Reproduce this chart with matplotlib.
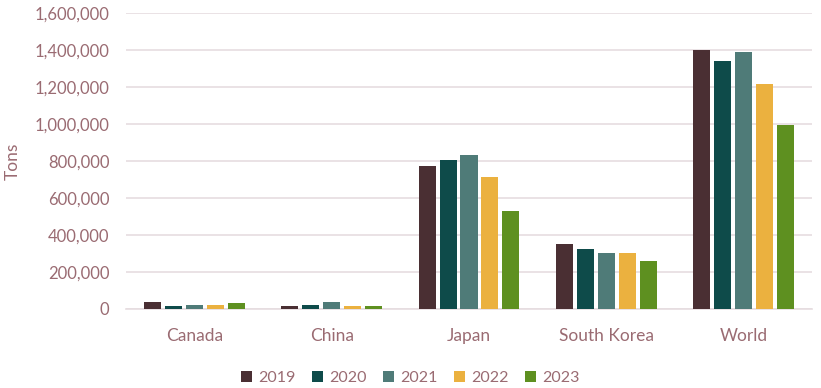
import matplotlib.pyplot as plt
import numpy as np
from matplotlib.ticker import FuncFormatter

# Data
countries = ["Canada", "China", "Japan", "South Korea", "World"]
years = ["2019", "2020", "2021", "2022", "2023"]
v2019 = [38000, 16000, 771000, 350000, 1398000]
v2020 = [16000, 22000, 804000, 323000, 1340000]
v2021 = [22000, 38000, 831000, 301000, 1389000]
v2022 = [22000, 16000, 712000, 301000, 1216000]
v2023 = [33000, 16000, 528000, 258000, 995000]
series = [v2019, v2020, v2021, v2022, v2023]
colors = ["#4A2F33", "#0E4B4A", "#4F7B78", "#EBB13F", "#5E9020"]

text_col = "#9A6B72"
grid_col = "#E6DDE0"
plt.rcParams["font.family"] = ["Lato", "DejaVu Sans"]

fig = plt.figure(figsize=(8.21, 3.88), dpi=100)
ax = fig.add_axes([0.1535, 0.2044, 0.8355, 0.7621])

x = np.arange(len(countries))
width = 0.124
pitch = 0.153
for i, (vals, c) in enumerate(zip(series, colors)):
    ax.bar(x + (i - 2) * pitch, vals, width, color=c, label=years[i], zorder=3)

ax.set_xlim(-0.5, len(countries) - 0.5)
ax.set_ylim(0, 1600000)
ax.set_yticks(np.arange(0, 1600001, 200000))
ax.yaxis.set_major_formatter(FuncFormatter(lambda v, p: f"{int(v):,}"))
ax.set_xticks(x)
ax.set_xticklabels(countries, fontsize=12.5)
ax.grid(axis="y", color=grid_col, linewidth=1.2, zorder=0)
for s in ["top", "right", "left"]:
    ax.spines[s].set_visible(False)
ax.spines["bottom"].set_color(grid_col)
ax.spines["bottom"].set_linewidth(1.2)
ax.tick_params(axis="both", length=0, colors=text_col)
ax.tick_params(axis="y", labelsize=12, pad=12)
ax.tick_params(axis="x", pad=14)
ax.set_ylabel("Tons", color=text_col, fontsize=12.5, labelpad=10)

leg = fig.legend(loc="lower center", bbox_to_anchor=(0.5, -0.03), ncol=5, frameon=False,
                 fontsize=11.5, handlelength=0.7, handleheight=0.7, handletextpad=0.4,
                 columnspacing=1.0)
for t in leg.get_texts():
    t.set_color(text_col)

fig.savefig("out.png", dpi=100)
